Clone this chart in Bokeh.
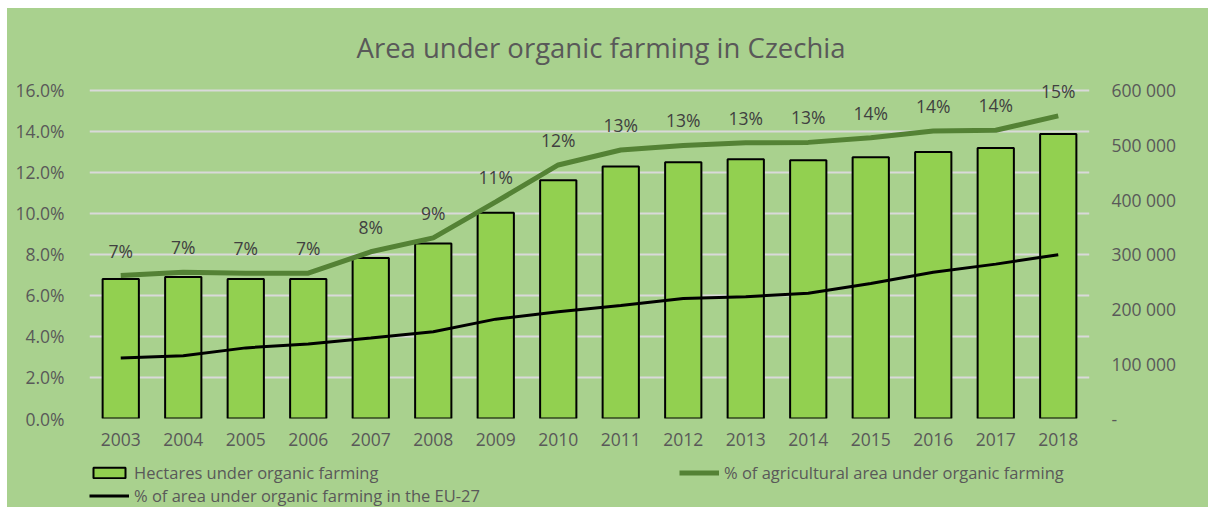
from bokeh.plotting import figure
from bokeh.layouts import column
from bokeh.models import (Range1d, LinearAxis, NumeralTickFormatter, FixedTicker,
                          CustomJSTickFormatter, ColumnDataSource, LabelSet, Legend, LegendItem)
from bokeh.core.properties import value
from bokeh.embed import file_html
from bokeh.resources import INLINE

years = [2003, 2004, 2005, 2006, 2007, 2008, 2009, 2010, 2011, 2012, 2013, 2014, 2015, 2016, 2017, 2018]
hectares = [254800, 258400, 254800, 254800, 293100, 319700, 375700, 435300, 460200, 468100,
            473600, 471800, 477200, 486900, 494200, 519800]
share_cz = [0.0696, 0.0712, 0.0707, 0.0708, 0.0812, 0.0880, 0.1055, 0.1235, 0.1308, 0.1330,
            0.1343, 0.1345, 0.1368, 0.1400, 0.1404, 0.1474]
share_eu = [0.0295, 0.0306, 0.0344, 0.0363, 0.0392, 0.0423, 0.0484, 0.0520, 0.0550, 0.0585,
            0.0593, 0.0610, 0.0658, 0.0712, 0.0752, 0.0798]
labels_cz = ["7%", "7%", "7%", "7%", "8%", "9%", "11%", "12%", "13%", "13%", "13%", "13%",
             "14%", "14%", "14%", "15%"]
left_ticks = [0, 0.02, 0.04, 0.06, 0.08, 0.10, 0.12, 0.14, 0.16]
right_ticks = [0, 100000, 200000, 300000, 400000, 500000, 600000]
series_names = ["Hectares under organic farming",
                "% of agricultural area under organic farming",
                "% of area under organic farming in the EU-27"]

BG = "#a9d18e"
TXT = "#595959"
FONT = "Open Sans"
FS = "17.5px"
BAR_FILL = "#92d050"
CZ_COLOR = "#548235"
NAN = float("nan")

# left range extends a little above 16% so the top data label is not clipped
p = figure(frame_width=1000, frame_height=349, output_backend="svg", toolbar_location=None,
           x_range=Range1d(2002.5, 2018.5), y_range=Range1d(0, 0.17),
           min_border_left=82, min_border_right=119, min_border_top=61, min_border_bottom=45)
p.margin = (8, 0, 0, 7)
p.extra_y_ranges = {"ha": Range1d(0, 637500)}
p.background_fill_alpha = 0
p.border_fill_alpha = 0
p.styles = {"background-color": BG}
p.outline_line_color = None

p.title.text = "Area under organic farming in Czechia"
p.title.align = "left"
p.title.text_font = FONT
p.title.text_font_size = "27.5px"
p.title.text_font_style = "normal"
p.title.text_color = TXT
p.title.offset = 267
p.title.standoff = 8

src = ColumnDataSource(dict(x=years, ha=hectares, cz=share_cz, eu=share_eu, lab=labels_cz))

p.xgrid.grid_line_color = None
p.ygrid.grid_line_color = "#d9d9d9"
p.ygrid.grid_line_width = 2
p.yaxis.ticker = FixedTicker(ticks=left_ticks)

p.vbar(x="x", top="ha", width=0.58, source=src, y_range_name="ha",
       fill_color=BAR_FILL, line_color="black", line_width=2)
p.line("x", "cz", source=src, line_color=CZ_COLOR, line_width=5)
p.line("x", "eu", source=src, line_color="black", line_width=3)

lbls = LabelSet(x="x", y="cz", text="lab", source=src, y_offset=25, text_align="center",
                text_baseline="middle", text_font=value(FONT), text_font_size=value(FS),
                text_color="#404040")
p.add_layout(lbls)

for ax in [p.xaxis[0], p.yaxis[0]]:
    ax.axis_line_color = None
    ax.major_tick_line_color = None
    ax.minor_tick_line_color = None
    ax.major_label_text_font = FONT
    ax.major_label_text_font_size = FS
    ax.major_label_text_color = TXT
p.xaxis.ticker = FixedTicker(ticks=years)
p.xaxis.major_label_standoff = 8
p.yaxis.formatter = NumeralTickFormatter(format="0.0%")
p.yaxis.major_label_standoff = 19

rax = LinearAxis(y_range_name="ha",
                 ticker=FixedTicker(ticks=right_ticks),
                 formatter=CustomJSTickFormatter(code="""
                    if (tick == 0) { return '-'; }
                    return String(Math.round(tick)).replace(/\\B(?=(\\d{3})+(?!\\d))/g, ' ');
                 """))
rax.axis_line_color = None
rax.major_tick_line_color = None
rax.minor_tick_line_color = None
rax.major_label_text_font = FONT
rax.major_label_text_font_size = FS
rax.major_label_text_color = TXT
rax.major_label_standoff = 16
p.add_layout(rax, "right")

# legend strip below the chart (legend-only renderers hold no visible data)
q = figure(width=1201, height=44, output_backend="svg", toolbar_location=None,
           x_range=Range1d(0, 1), y_range=Range1d(0, 1),
           x_axis_location=None, y_axis_location=None,
           min_border_left=0, min_border_right=0, min_border_top=0, min_border_bottom=0)
q.margin = (0, 0, 0, 7)
q.background_fill_alpha = 0
q.border_fill_alpha = 0
q.styles = {"background-color": BG}
q.outline_line_color = None
q.grid.grid_line_color = None
r_bar = q.vbar(x=[NAN], top=[NAN], width=0.1, fill_color=BAR_FILL, line_color="black", line_width=2)
r_cz = q.line(x=[NAN], y=[NAN], line_color=CZ_COLOR, line_width=5)
r_eu = q.line(x=[NAN], y=[NAN], line_color="black", line_width=3)

legend = Legend(items=[
    LegendItem(label=series_names[0], renderers=[r_bar]),
    LegendItem(label=series_names[2], renderers=[r_eu]),
    LegendItem(label=series_names[1], renderers=[r_cz]),
], ncols=2, location=(0, 0))
legend.background_fill_alpha = 0
legend.border_line_color = None
legend.label_text_font = FONT
legend.label_text_font_size = "16.5px"
legend.label_text_color = TXT
legend.glyph_width = 40
legend.glyph_height = 13
legend.label_standoff = 5
legend.label_width = 545
legend.label_height = 22
legend.spacing = 0
legend.padding = 0
legend.margin = 0
legend.click_policy = "none"
q.add_layout(legend, "center")

layout = column(p, q, spacing=0)
open("out.html", "w").write(file_html(layout, INLINE))
